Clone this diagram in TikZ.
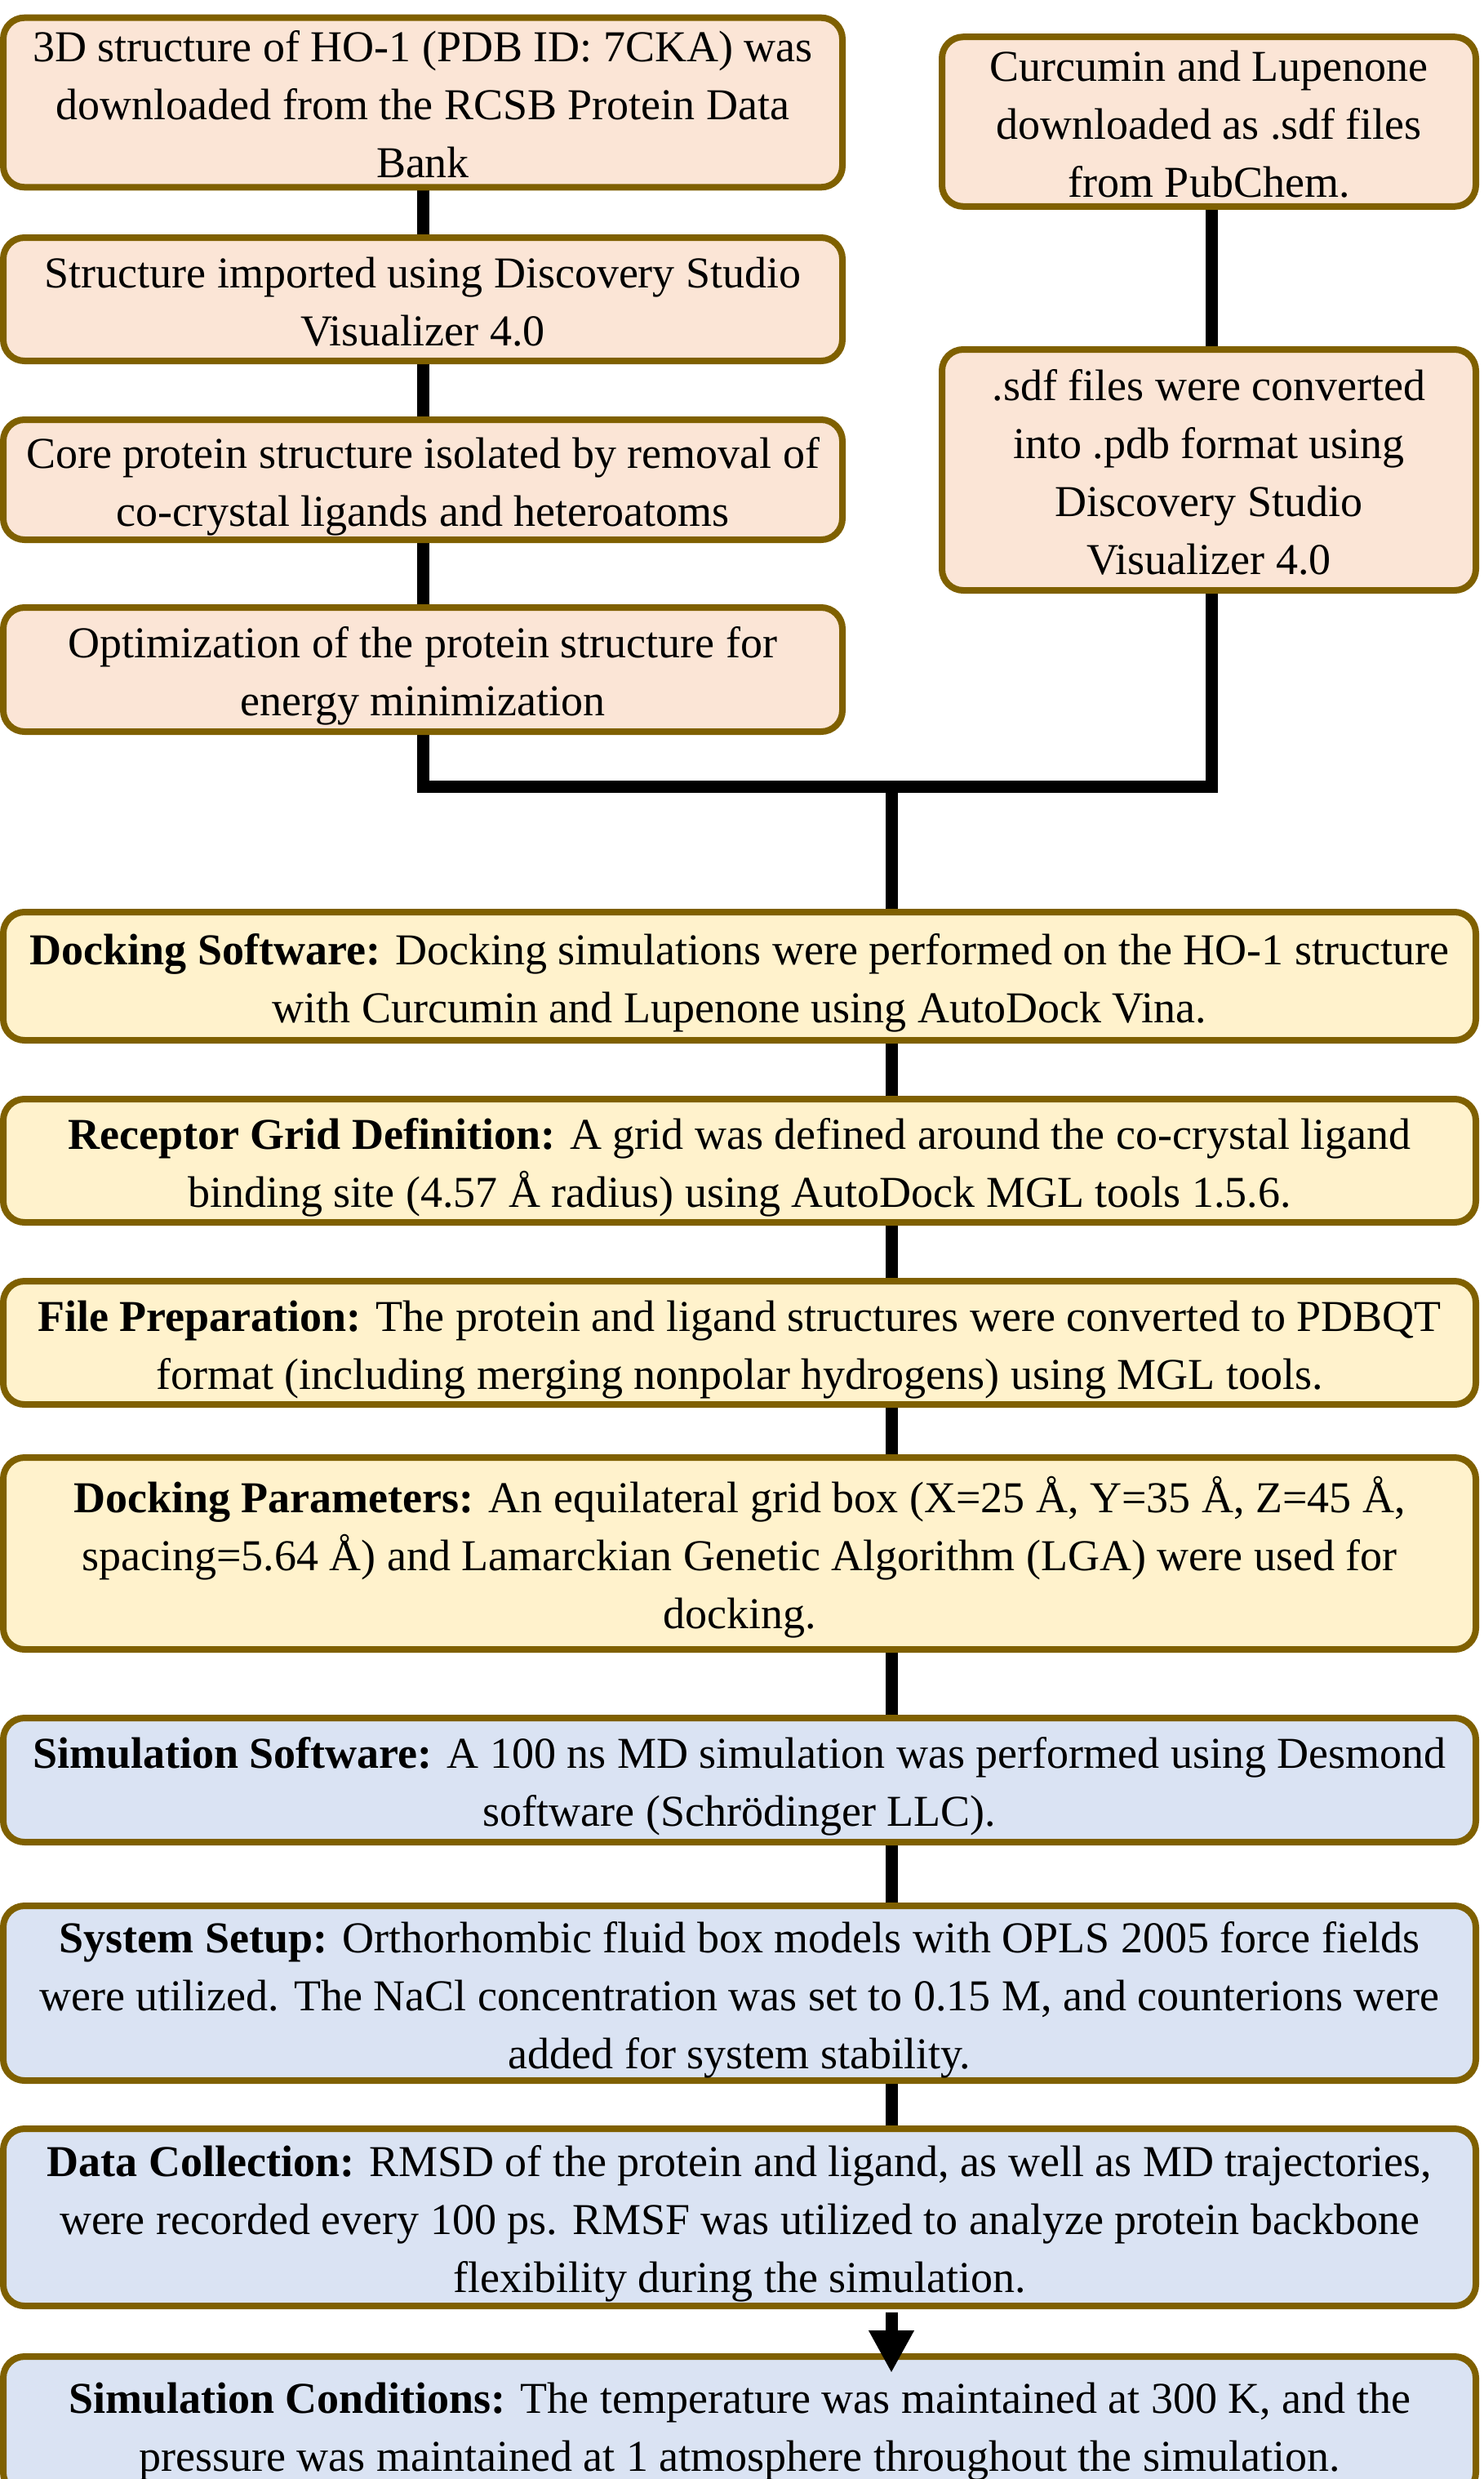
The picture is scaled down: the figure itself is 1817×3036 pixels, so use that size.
\documentclass[tikz,border=0pt]{standalone}
\usepackage{fontspec}
\setmainfont{Liberation Serif}
\usetikzlibrary{arrows.meta,backgrounds}
\definecolor{peachc}{HTML}{FBE5D6}
\definecolor{yellowc}{HTML}{FFF2CC}
\definecolor{bluec}{HTML}{DAE3F3}
\definecolor{bordc}{HTML}{7F6000}
\newcommand{\tstr}{\rule{0pt}{27pt}}
\newcommand{\bstr}{\rule[-5.8pt]{0pt}{0pt}}
\tikzset{
  box/.style={draw=bordc, line width=4pt, rounded corners=13pt, align=center,
    inner sep=0pt, font=\fontsize{27pt}{35.5pt}\selectfont},
  peach/.style={box, fill=peachc},
  yel/.style={box, fill=yellowc},
  blu/.style={box, fill=bluec},
  conn/.style={line width=7.5pt, draw=black, line join=miter},
}
\begin{document}
\begin{tikzpicture}[x=0.5pt,y=-0.5pt]
\useasboundingbox (0,0) rectangle (1817,3036);
% left column
\node[peach, minimum width=514pt, minimum height=102.5pt] (A) at (518,125.5)
  {\tstr 3D structure of HO-1 (PDB ID: 7CKA) was\\downloaded from the RCSB Protein Data\\Bank\bstr};
\node[peach, minimum width=514pt, minimum height=75.5pt] (C) at (518,366.5)
  {\tstr Structure imported using Discovery Studio\\Visualizer 4.0\bstr};
\node[peach, minimum width=514pt, minimum height=73.5pt] (E) at (518,587.5)
  {\tstr Core protein structure isolated by removal of\\co-crystal ligands and heteroatoms\bstr};
\node[peach, minimum width=514pt, minimum height=76pt] (F) at (518,820)
  {\tstr Optimization of the protein structure for\\energy minimization\bstr};
% right column
\node[peach, minimum width=327pt, minimum height=103pt] (B) at (1481,149)
  {\tstr Curcumin and Lupenone\\downloaded as .sdf files\\from PubChem.\bstr};
\node[peach, minimum width=327pt, minimum height=147.5pt] (D) at (1481,575.5)
  {\tstr .sdf files were converted\\into .pdb format using\\Discovery Studio\\Visualizer 4.0\bstr};
% main column
\node[yel, minimum width=902pt, minimum height=78.5pt] (G) at (906,1195.5)
  {\tstr\textbf{Docking Software:} Docking simulations were performed on the HO-1 structure\\with Curcumin and Lupenone using AutoDock Vina.\bstr};
\node[yel, minimum width=902pt, minimum height=75.5pt] (H) at (906,1421.5)
  {\tstr\textbf{Receptor Grid Definition:} A grid was defined around the co-crystal ligand\\binding site (4.57 Å radius) using AutoDock MGL tools 1.5.6.\bstr};
\node[yel, minimum width=902pt, minimum height=75.5pt] (I) at (906,1644.5)
  {\tstr\textbf{File Preparation:} The protein and ligand structures were converted to PDBQT\\format (including merging nonpolar hydrogens) using MGL tools.\bstr};
\node[yel, minimum width=902pt, minimum height=117.5pt] (J) at (906,1902.5)
  {\tstr\textbf{Docking Parameters:} An equilateral grid box (X=25 Å, Y=35 Å, Z=45 Å,\\spacing=5.64 Å) and Lamarckian Genetic Algorithm (LGA) were used for\\docking.\bstr};
\node[blu, minimum width=902pt, minimum height=76pt] (K) at (906,2180)
  {\tstr\textbf{Simulation Software:} A 100 ns MD simulation was performed using Desmond\\software (Schrödinger LLC).\bstr};
\node[blu, minimum width=902pt, minimum height=107pt] (L) at (906,2441)
  {\tstr\textbf{System Setup:} Orthorhombic fluid box models with OPLS 2005 force fields\\were utilized. The NaCl concentration was set to 0.15 M, and counterions were\\added for system stability.\bstr};
\node[blu, minimum width=902pt, minimum height=108.5pt] (M) at (906,2715.5)
  {\tstr\textbf{Data Collection:} RMSD of the protein and ligand, as well as MD trajectories,\\were recorded every 100 ps. RMSF was utilized to analyze protein backbone\\flexibility during the simulation.\bstr};
\node[blu, minimum width=902pt, minimum height=84pt] (N) at (906,2970)
  {\tstr\textbf{Simulation Conditions:} The temperature was maintained at 300 K, and the\\pressure was maintained at 1 atmosphere throughout the simulation.\bstr};
% junction coordinates
\coordinate (jl) at (518,963);
\coordinate (jr) at (1484,963);
\coordinate (mid) at (1092,963);
\begin{pgfonlayer}{background}
  \draw[conn] (A.south) -- (C.north);
  \draw[conn] (C.south) -- (E.north);
  \draw[conn] (E.south) -- (F.north);
  \draw[conn] (B.south -| jr) -- (D.north -| jr);
  \draw[conn] (F.south) -- (jl) -- (jr) -- (D.south -| jr);
  \draw[conn] (mid) -- (G.north -| mid);
  \draw[conn] (G.south -| mid) -- (H.north -| mid);
  \draw[conn] (H.south -| mid) -- (I.north -| mid);
  \draw[conn] (I.south -| mid) -- (J.north -| mid);
  \draw[conn] (J.south -| mid) -- (K.north -| mid);
  \draw[conn] (K.south -| mid) -- (L.north -| mid);
  \draw[conn] (L.south -| mid) -- (M.north -| mid);
\end{pgfonlayer}
\draw[conn, -{Triangle[width=26pt,length=26pt]}] ([yshift=-2pt]M.south -| mid) -- ([yshift=-12pt]N.north -| mid);
\end{tikzpicture}
\end{document}
